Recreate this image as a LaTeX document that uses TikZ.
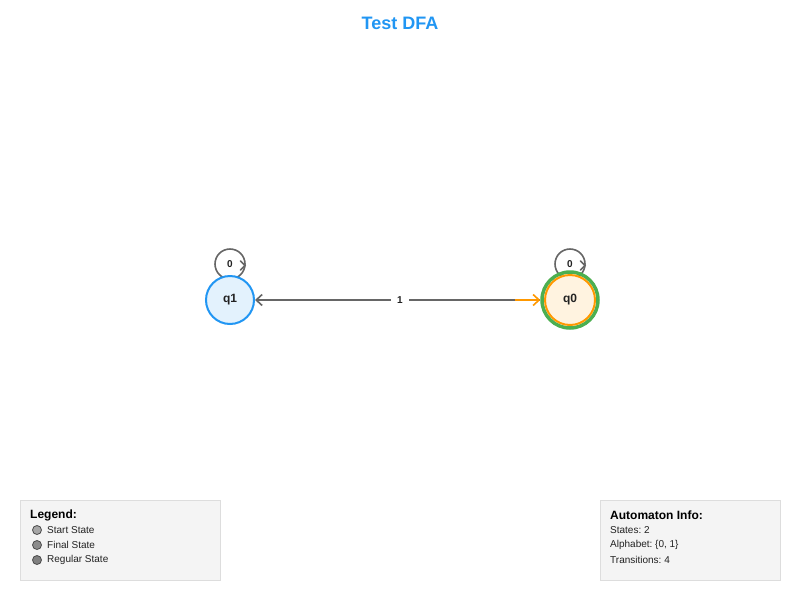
\documentclass[tikz,border=0pt]{standalone}
\usepackage{fontspec}
\setmainfont{Liberation Sans}
\frenchspacing
\usetikzlibrary{arrows.meta}
\definecolor{cblue}{HTML}{2196F3}
\definecolor{clblue}{HTML}{E3F2FD}
\definecolor{cgreen}{HTML}{4CAF50}
\definecolor{corange}{HTML}{FF9800}
\definecolor{clorange}{HTML}{FFF3E0}
\definecolor{cgray}{HTML}{666666}
\definecolor{ctext}{HTML}{222222}
\definecolor{cbox}{HTML}{F4F4F4}
\definecolor{cboxline}{HTML}{DDDDDD}
\tikzset{
  statelabel/.style={font=\bfseries\fontsize{12}{14}\selectfont, text=ctext},
  looplabel/.style={font=\bfseries\fontsize{10}{12}\selectfont, text=ctext, inner sep=1pt},
  loopline/.style={draw=cgray, line width=1.6pt},
  edgeline/.style={draw=cgray, line width=2pt},
  barb/.style={-{Straight Barb[length=6pt,width=11pt,line width=1.6pt]}},
  infobox/.style={draw=cboxline, fill=cbox, line width=1.2pt},
  boxtitle/.style={font=\bfseries\fontsize{12}{14}\selectfont, anchor=west, inner sep=0pt, text=black},
  boxtext/.style={font=\fontsize{10}{12}\selectfont, anchor=west, inner sep=0pt, text=ctext},
  legdot/.style={draw=black!70, line width=0.8pt, minimum size=9pt, inner sep=0pt, circle}
}
\begin{document}
\begin{tikzpicture}[x=1pt,y=-1pt]
\useasboundingbox (0,0) rectangle (800,600);
\fill[white] (0,0) rectangle (800,600);
% title
\node[font=\bfseries\fontsize{18}{21}\selectfont, text=cblue] (title) at (400,23) {Test DFA};
% loops
\coordinate (l1) at (230,264);
\coordinate (l0) at (570,264);
\draw[loopline] (l1) circle (15);
\draw[loopline] (l0) circle (15);
\node[looplabel] (l1t) at (l1) {0};
\node[looplabel] (l0t) at (l0) {0};
\draw[draw=cgray, line width=1.5pt, line cap=round, line join=miter] (240.5,261) -- (245,265.5) -- (240.5,270);
\draw[draw=cgray, line width=1.5pt, line cap=round, line join=miter] (580.5,261) -- (585,265.5) -- (580.5,270);
% states
\node[circle, draw=cblue, fill=clblue, line width=2pt, minimum size=48pt, inner sep=0pt] (q1) at (230,300) {};
\node[circle, draw=cgreen, line width=3.5pt, minimum size=56pt, inner sep=0pt] (q0o) at (570,300) {};
\node[circle, draw=corange, fill=clorange, line width=2pt, minimum size=50pt, inner sep=0pt] (q0) at (570,300) {};
\node[statelabel] (q1t) at (q1) {q1};
\node[statelabel] (q0t) at (q0) {q0};
% transition
\draw[edgeline, barb] (q0o.west) -- (q1.east);
\node[looplabel, fill=white, inner xsep=6pt, inner ysep=3pt] (e1) at (400,300) {1};
\coordinate (start) at (515,300);
\draw[draw=corange, line width=2pt, -{Straight Barb[length=6pt,width=11pt,line width=1.6pt]}] (start) -- (q0o.west);
% legend
\node[infobox, minimum width=200pt, minimum height=80pt, anchor=north west, inner sep=0pt] (leg) at (20,500) {};
\node[boxtitle] (legt) at (30,515) {Legend:};
\node[legdot, fill=black!35] (d1) at (37,530) {};
\node[legdot, fill=black!45] (d2) at (37,545) {};
\node[legdot, fill=black!50] (d3) at (37,560) {};
\node[boxtext] (t1) at (47,530) {Start State};
\node[boxtext] (t2) at (47,545) {Final State};
\node[boxtext] (t3) at (47,560) {Regular State};
% info
\node[infobox, minimum width=180pt, minimum height=80pt, anchor=north west, inner sep=0pt] (info) at (600,500) {};
\node[boxtitle] (infot) at (610,515) {Automaton Info:};
\node[boxtext] (i1) at (610,530) {States: 2};
\node[boxtext] (i2) at (610,545) {Alphabet: \{0, 1\}};
\node[boxtext] (i3) at (610,560) {Transitions: 4};
\end{tikzpicture}
\end{document}
